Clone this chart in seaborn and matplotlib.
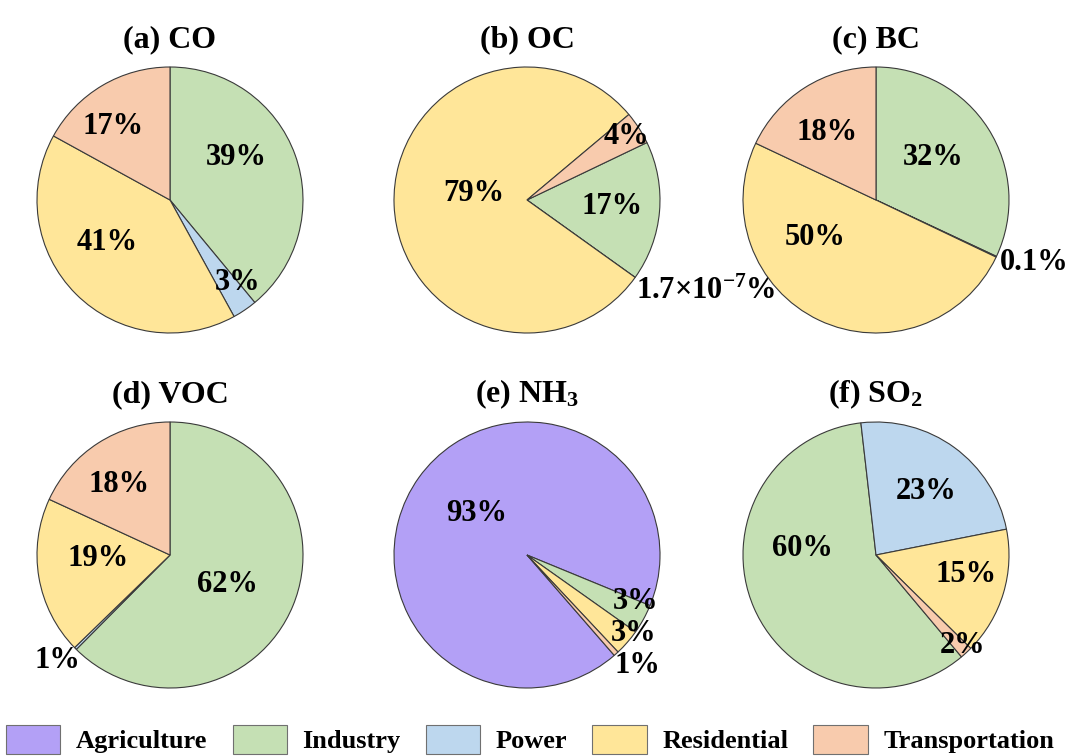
import seaborn as sns
import matplotlib.pyplot as plt
import matplotlib.patches as mpatches

sns.set_theme(style="white")
plt.rcParams["font.family"] = ["Liberation Serif", "DejaVu Serif"]
plt.rcParams["font.weight"] = "bold"
plt.rcParams["text.color"] = "black"
plt.rcParams["mathtext.fontset"] = "custom"
plt.rcParams["mathtext.rm"] = "Liberation Serif:bold"
plt.rcParams["mathtext.it"] = "Liberation Serif:bold"
plt.rcParams["mathtext.bf"] = "Liberation Serif:bold"

# emission sectors and colours
sources = ["Agriculture", "Industry", "Power", "Residential", "Transportation"]
colors = ["#b3a0f6", "#c5e0b4", "#bdd7ee", "#ffe699", "#f8cbad"]

titles = ["(a) CO", "(b) OC", "(c) BC", "(d) VOC", "(e) NH$_3$", "(f) SO$_2$"]

# sector shares (%), same order as sources
co = [0, 39, 3, 41, 17]
oc = [0, 17, 1.7e-9, 79, 4]
bc = [0, 32, 0.1, 50, 18]
voc = [0, 62, 0.3, 19, 18]
nh3 = [92.6, 3.6, 0, 3.2, 0.6]
so2 = [0, 59.3, 23.7, 15.5, 1.5]

co_lab = ["", "39%", "3%", "41%", "17%"]
oc_lab = ["", "17%", "1.7×10$^{-7}$%", "79%", "4%"]
bc_lab = ["", "32%", "0.1%", "50%", "18%"]
voc_lab = ["", "62%", "1%", "19%", "18%"]
nh3_lab = ["93%", "3%", "", "3%", "1%"]
so2_lab = ["", "60%", "23%", "15%", "2%"]

shares = [co, oc, bc, voc, nh3, so2]
labels = [co_lab, oc_lab, bc_lab, voc_lab, nh3_lab, so2_lab]

# layout / style
start_angles = [90, 25.6, 90, 90, -49, -50]
label_xy = [
    [None, (0.50, 0.32), (0.51, -0.62), (-0.47, -0.32), (-0.43, 0.55)],
    [None, (0.64, -0.05), (0.82, -0.69), (-0.40, 0.05), (0.75, 0.48)],
    [None, (0.43, 0.32), (0.93, -0.47), (-0.46, -0.28), (-0.37, 0.51)],
    [None, (0.43, -0.22), (-0.85, -0.79), (-0.54, -0.03), (-0.38, 0.53)],
    [(-0.38, 0.31), (0.82, -0.35), None, (0.80, -0.59), (0.83, -0.83)],
    [None, (-0.55, 0.05), (0.38, 0.48), (0.68, -0.15), (0.65, -0.68)],
]
left_aligned = {(1, 2), (2, 2)}

W, H = 1069, 756
R = 133
cx = [170, 527, 876]
cy = [200, 555]

fig = plt.figure(figsize=(W / 100, H / 100), dpi=100)

for i in range(6):
    row, col = divmod(i, 3)
    ax = fig.add_axes([(cx[col] - R) / W, 1 - (cy[row] + R) / H, 2 * R / W, 2 * R / H])
    vals = [v for v in shares[i] if v > 0]
    cols = [c for v, c in zip(shares[i], colors) if v > 0]
    ax.pie(vals, colors=cols, startangle=start_angles[i], counterclock=False,
           wedgeprops=dict(edgecolor="#3a3a3a", linewidth=0.8))
    ax.set_xlim(-1, 1)
    ax.set_ylim(-1, 1)
    ax.set_aspect("equal")
    ax.set_title(titles[i], fontsize=23, fontweight="bold", pad=14, color="black")
    for j, lab in enumerate(labels[i]):
        if not lab:
            continue
        x, y = label_xy[i][j]
        ha = "left" if (i, j) in left_aligned else "center"
        ax.text(x, y, lab, ha=ha, va="center", fontsize=22, fontweight="bold",
                color="black")

handles = [mpatches.Patch(facecolor=c, edgecolor="#707070", linewidth=0.8, label=s)
           for s, c in zip(sources, colors)]
fig.legend(handles=handles, loc="center", bbox_to_anchor=(0.496, 0.022), ncol=5,
           frameon=False, prop=dict(size=19, weight="bold"),
           handlelength=2.05, handleheight=1.35, handletextpad=0.6,
           columnspacing=0.95)

fig.savefig("out.png", dpi=100)
